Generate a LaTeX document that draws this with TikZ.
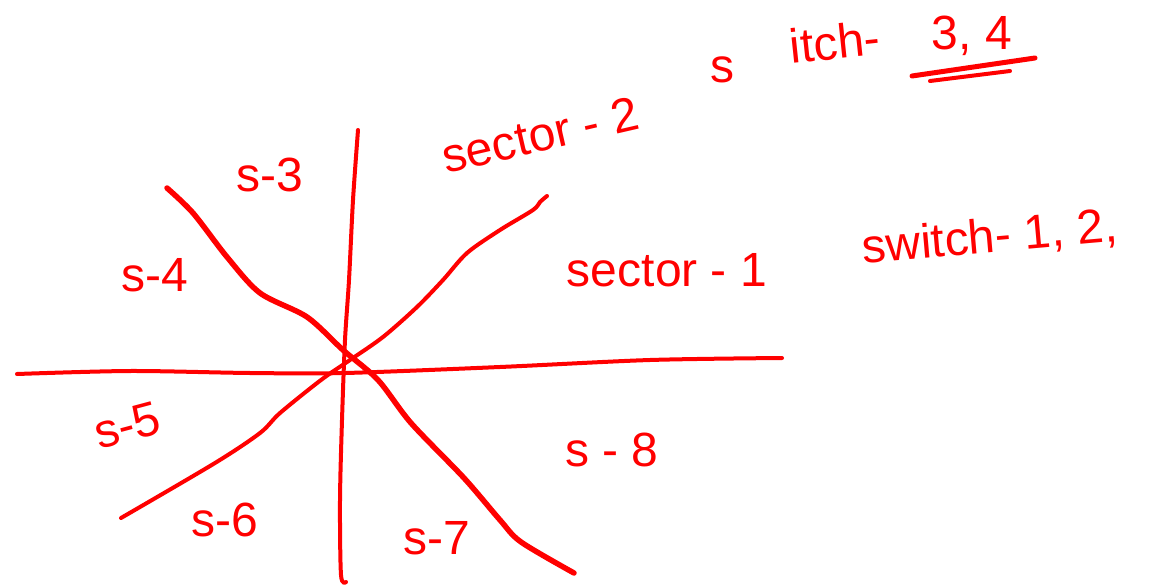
\documentclass[tikz,border=0pt]{standalone}
\usepackage{fontspec}
\setmainfont{Liberation Sans}
\begin{document}
\begin{tikzpicture}[x=1pt,y=-1pt,
  ink/.style={draw=red, line width=4pt, line cap=round, line join=round},
  thick ink/.style={ink, line width=5.5pt},
  lab/.style={text=red, font=\fontsize{48}{54}\selectfont, inner sep=0pt, anchor=center}]
\useasboundingbox (0,0) rectangle (1161,588);
% horizontal axis
\draw[ink] plot[smooth] coordinates {(17,374) (130,371) (250,373) (345,373) (500,367) (650,360) (782,358)};
% vertical axis
\draw[ink] plot[smooth] coordinates {(358,130) (353,200) (349,280) (345,340) (342,420) (340,500) (341,575) (346,582)};
% rising diagonal
\draw[ink] plot[smooth] coordinates {(121,518) (215,463) (260,433) (280,413) (321,380) (350,360) (383,337) (417,307) (443,280) (467,253) (500,230) (533,210) (540,202) (547,196)};
% falling diagonal
\draw[thick ink] plot[smooth] coordinates {(167,188) (193,213) (227,257) (260,293) (307,317) (343,350) (378,380) (411,423) (464,478) (500,520) (521,542) (574,573)};
% sector labels
\node[lab] (s3) at (270,175) {s-3};
\node[lab] (s4) at (155,275) {s-4};
\node[lab, rotate=15] (s5) at (127,425) {s-5};
\node[lab] (s6) at (225,520) {s-6};
\node[lab] (s7) at (437,538) {s-7};
\node[lab] (s8) at (612,450) {s - 8};
% notes
\node[lab, rotate=13] (sec2) at (540,135) {sector - 2};
\node[lab] (sw2a) at (722,70) {s};
\node[lab, rotate=6] (sw2b) at (835,42) {itch-};
\node[lab] (sw2c) at (972,36) {3, 4};
\draw[ink, line width=5pt] (912,76) -- (1035,58);
\draw[ink, line width=4pt] (930,81) -- (1010,71);
\node[lab] (sec1) at (667,270) {sector - 1};
\node[lab, rotate=5] (sw1) at (990,238) {switch- 1, 2,};
\end{tikzpicture}
\end{document}
